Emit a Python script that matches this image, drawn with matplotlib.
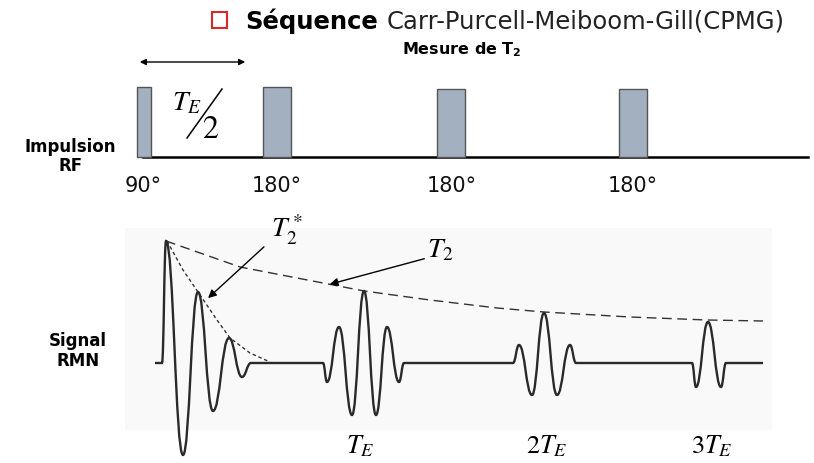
import matplotlib
matplotlib.use("Agg")
import matplotlib.pyplot as plt
from matplotlib.patches import Rectangle
from matplotlib.path import Path
from matplotlib.patches import PathPatch

plt.rcParams['mathtext.fontset'] = 'stix'

# --- RF pulses (x left, width, top) in picture units ---
pulse_left = [137, 263, 437, 619]
pulse_width = [14, 28, 28, 28]
pulse_top = [87, 87, 89, 89]
pulse_labels = ['90°', '180°', '180°', '180°']
pulse_label_x = [143, 277, 452, 633]
rf_base_y = 157

# --- NMR signal: extrema of the trace ---
sig_x = [155, 162, 166, 183, 198, 213, 229, 242, 251,
         323, 327, 339, 352, 364, 376, 387, 399, 404,
         513, 519, 532, 544, 557, 570, 576,
         692, 696, 708, 721, 726, 763]
sig_y = [363, 363, 241, 455, 292, 411, 338, 377, 363,
         363, 382, 327, 415, 291, 415, 327, 382, 363,
         363, 345, 395, 313, 395, 345, 363,
         363, 387, 322, 387, 363, 363]

# T2 envelope (dashed) and T2* envelope (dotted)
t2_x = [166, 240, 323, 364, 430, 497, 544, 630, 707, 763]
t2_y = [241, 267, 283, 291, 300, 308, 312, 317, 320, 321]
t2s_x = [167, 183, 198, 217, 230, 250, 270]
t2s_y = [241, 270, 292, 320, 338, 353, 362]

echo_labels = ['$T_E$', '$2T_E$', '$3T_E$']
echo_label_x = [360, 547, 712]


def smooth_path(xs, ys, k=0.45):
    # cubic segments with flat tangents at each extremum
    verts = [(xs[0], ys[0])]
    codes = [Path.MOVETO]
    for i in range(1, len(xs)):
        dx = xs[i] - xs[i - 1]
        verts += [(xs[i - 1] + k * dx, ys[i - 1]), (xs[i] - k * dx, ys[i]), (xs[i], ys[i])]
        codes += [Path.CURVE4] * 3
    return Path(verts, codes)


fig = plt.figure(figsize=(8.14, 4.63), dpi=100)
ax = fig.add_axes([0, 0, 1, 1])
ax.set_xlim(0, 814)
ax.set_ylim(463, 0)
ax.axis('off')

# light panel behind signal
ax.add_patch(Rectangle((125, 228), 647, 202, facecolor='#f9f9f9', edgecolor='none', zorder=0))

# --- title ---
ax.add_patch(Rectangle((212, 12), 15, 16, fill=False, edgecolor='#d42a2a', lw=1.5))
t1 = ax.text(245, 21, 'Séquence', fontsize=17.5, fontweight='bold', va='center', ha='left')
fig.canvas.draw()
bb = t1.get_window_extent(fig.canvas.get_renderer())
ax.text(bb.x1 + 9, 21, 'Carr-Purcell-Meiboom-Gill(CPMG)', fontsize=17.5, va='center', ha='left', color='#222222')
ax.text(462, 50, r'Mesure de T$_\mathbf{2}$', fontsize=11.5, fontweight='bold', ha='center', va='center',
        math_fontfamily='dejavusans')

# --- RF line ---
ax.annotate('', xy=(137, 62), xytext=(248, 62),
            arrowprops=dict(arrowstyle='<|-|>', color='black', lw=1, mutation_scale=9))
ax.plot([143, 808], [rf_base_y, rf_base_y], color='black', lw=1.8, zorder=2)
for left, w, top in zip(pulse_left, pulse_width, pulse_top):
    ax.add_patch(Rectangle((left, top), w, rf_base_y - top, facecolor='#a3b0bf',
                           edgecolor='#555555', lw=1, zorder=3))
for lab, x in zip(pulse_labels, pulse_label_x):
    ax.text(x, 186, lab, fontsize=15, ha='center', va='center', color='#111111')

ax.text(172, 110, '$T_E$', fontsize=20, ha='left', va='baseline')
ax.plot([187, 222], [138, 89], color='black', lw=1.1)
ax.text(202, 138, '$2$', fontsize=23, ha='left', va='baseline')

ax.text(70, 147, 'Impulsion', fontsize=12, fontweight='bold', ha='center', va='center')
ax.text(71, 166, 'RF', fontsize=12, fontweight='bold', ha='center', va='center')
ax.text(78, 341, 'Signal', fontsize=12, fontweight='bold', ha='center', va='center')
ax.text(78, 361, 'RMN', fontsize=12, fontweight='bold', ha='center', va='center')

# --- signal ---
ax.add_patch(PathPatch(smooth_path(sig_x, sig_y), fill=False, edgecolor='#2a2a2a', lw=1.7, zorder=4))
ax.plot(t2_x, t2_y, color='#333333', lw=1, ls=(0, (7, 4)), zorder=3)
ax.plot(t2s_x, t2s_y, color='#333333', lw=1, ls=(0, (2.5, 2)), zorder=3)

ax.annotate('', xy=(206, 300), xytext=(266, 245),
            arrowprops=dict(arrowstyle='-|>', color='black', lw=1, mutation_scale=12))
ax.annotate('', xy=(327, 285), xytext=(427, 258),
            arrowprops=dict(arrowstyle='-|>', color='black', lw=1, mutation_scale=12))
ax.text(271, 238, '$T_2^*$', fontsize=20, ha='left', va='baseline')
ax.text(427, 257, '$T_2$', fontsize=20, ha='left', va='baseline')

for lab, x in zip(echo_labels, echo_label_x):
    ax.text(x, 453, lab, fontsize=19, ha='center', va='baseline')

fig.savefig('out.png', dpi=100)
